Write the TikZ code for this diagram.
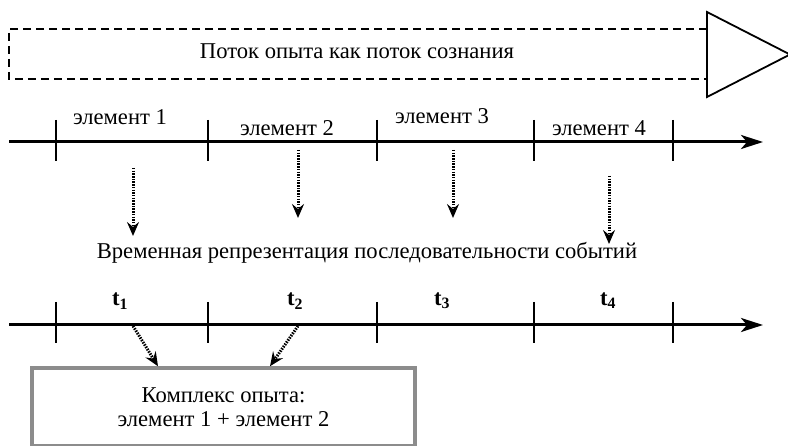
\documentclass[tikz,border=0pt]{standalone}
\usepackage{fontspec}
\setmainfont{Liberation Serif}
\usetikzlibrary{arrows.meta}
\begin{document}
\begin{tikzpicture}[x=1pt,y=-1pt,
  axis/.style={line width=3pt,-{Stealth[length=22pt,width=14pt,inset=6pt]}},
  tick/.style={line width=1.8pt},
  dotarrow/.style={line width=3pt,dash pattern=on 1.5pt off 1.2pt,-{Stealth[length=14pt,width=12pt,inset=5pt]}},
  lbl/.style={font=\fontsize{22.6}{24}\selectfont,inner sep=1pt},
  tlbl/.style={font=\fontsize{22.6}{24}\selectfont\bfseries,inner sep=1pt}]
\useasboundingbox (0,0) rectangle (788,446);
% flow
\draw[line width=2.4pt,dash pattern=on 8pt off 5pt] (707,29) -- (9,29) -- (9,79) -- (707,79);
\draw[line width=1.8pt,fill=white] (707,12) -- (790,54.5) -- (707,97) -- cycle;
\node[lbl] (flow) at (357,51) {Поток опыта как поток сознания};
% timeline 1
\coordinate (a0) at (9,142);
\coordinate (a1) at (763,142);
\draw[axis] (a0) -- (a1);
\foreach \i/\x in {1/56,2/208,3/377,4/534,5/673}{
  \coordinate (u\i) at (\x,120);
  \coordinate (d\i) at (\x,161);
  \draw[tick] (u\i) -- (d\i);
}
\node[lbl] (e1) at (120,117) {элемент 1};
\node[lbl] (e2) at (287,128) {элемент 2};
\node[lbl] (e3) at (442,116) {элемент 3};
\node[lbl] (e4) at (599,128) {элемент 4};
% vertical dotted arrows
\coordinate (v1s) at (133,168); \coordinate (v1e) at (133,236);
\coordinate (v2s) at (298,150); \coordinate (v2e) at (298,218);
\coordinate (v3s) at (453,150); \coordinate (v3e) at (453,218);
\coordinate (v4s) at (609,176); \coordinate (v4e) at (609,244);
\draw[dotarrow] (v1s) -- (v1e);
\draw[dotarrow] (v2s) -- (v2e);
\draw[dotarrow] (v3s) -- (v3e);
\node[lbl] (rep) at (367,253) {Временная репрезентация последовательности событий};
\draw[dotarrow] (v4s) -- (v4e);
% timeline 2
\coordinate (b0) at (9,325);
\coordinate (b1) at (763,325);
\draw[axis] (b0) -- (b1);
\foreach \i/\x in {1/56,2/208,3/377,4/534,5/673}{
  \coordinate (p\i) at (\x,302);
  \coordinate (q\i) at (\x,343);
  \draw[tick] (p\i) -- (q\i);
}
\node[tlbl] (t1) at (120,301) {t\textsubscript{1}};
\node[tlbl] (t2) at (295,301) {t\textsubscript{2}};
\node[tlbl] (t3) at (442,301) {t\textsubscript{3}};
\node[tlbl] (t4) at (608,301) {t\textsubscript{4}};
% box
\node[draw=black!45,line width=3.5pt,minimum width=383pt,minimum height=78pt,inner sep=0pt,
  align=center,font=\fontsize{22.6}{24}\selectfont] (box) at (223.5,407) {Комплекс опыта:\\элемент 1 + элемент 2};
\coordinate (s1) at (133,326); \coordinate (s2) at (298,326);
\draw[dotarrow] (s1) -- (box.north west -| 158,0) ;
\draw[dotarrow] (s2) -- (box.north west -| 270,0);
\end{tikzpicture}
\end{document}
